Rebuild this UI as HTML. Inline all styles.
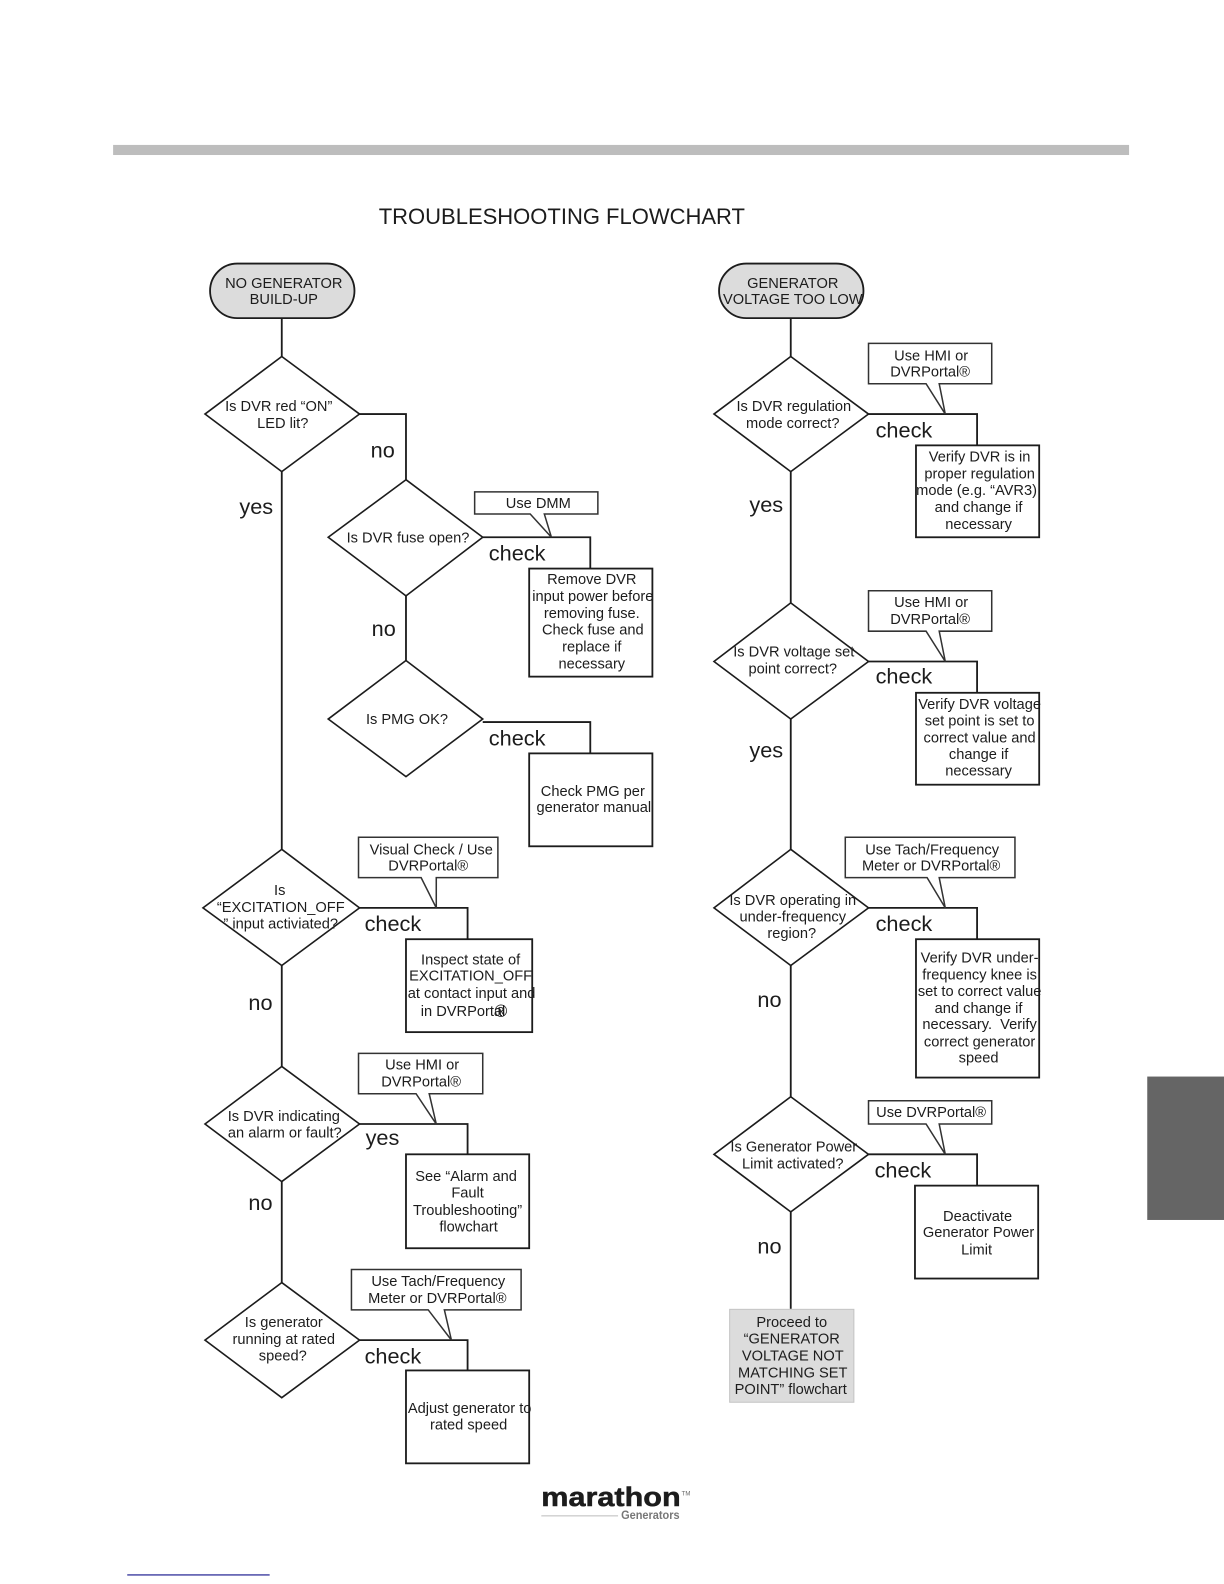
<!DOCTYPE html>
<html>
<head>
<meta charset="utf-8">
<style>
html,body{margin:0;padding:0;background:#fff;}
svg{display:block;}
text{font-family:"Liberation Sans",sans-serif;fill:#1c1c1c;}
.t{font-size:14.5px;text-anchor:middle;}
.l{font-size:21.5px;text-anchor:start;}
.s{fill:none;stroke:#1c1c1c;stroke-width:1.8;}
.b{fill:#fff;stroke:#1c1c1c;stroke-width:1.8;}
.c{fill:#fff;stroke:#333;stroke-width:1.5;}
</style>
</head>
<body>
<svg xmlns="http://www.w3.org/2000/svg" width="1224" height="1584" viewBox="0 0 1212 1568.47">
<rect x="112" y="143.500" width="1006" height="10" fill="#bdbdbd"/>
<rect x="1136" y="1066" width="76" height="142" fill="#656565"/>
<text x="375" y="222" style="font-size:21.8px">TROUBLESHOOTING FLOWCHART</text>

<!-- connectors -->
<path class="s" d="M279 315V353M279 467V841M279 956V1056M279 1170V1270"/>
<path class="s" d="M356 410H402V475M402 590V654"/>
<path class="s" d="M478 532H584.500V563M478 715H584.500V746"/>
<path class="s" d="M356 899H463V930M356 1113H463V1143M356 1327H463V1357"/>
<path class="s" d="M783 315V353M783 467V597M783 712V841M783 956V1086M783 1200V1296"/>
<path class="s" d="M860 410H967.500V441M860 655H967.500V686M860 899H967.500V930M860 1143H967.500V1174"/>

<!-- pills -->
<rect x="208" y="261" width="143" height="54" rx="27" fill="#dcdcdc" stroke="#1c1c1c" stroke-width="1.8"/>
<rect x="712" y="261" width="143" height="54" rx="27" fill="#dcdcdc" stroke="#1c1c1c" stroke-width="1.8"/>

<!-- decisions -->
<g fill="#fff" stroke="#1c1c1c" stroke-width="1.6">
<polygon points="279,353 356,410 279,467 203,410"/>
<polygon points="402,475 478,532 402,590 325,532"/>
<polygon points="402,654 478,712 402,769 325,712"/>
<polygon points="279,841 356,899 279,956 201,899"/>
<polygon points="279,1056 356,1113 279,1170 203,1113"/>
<polygon points="279,1270 356,1327 279,1384 203,1327"/>
<polygon points="783,353 860,410 783,467 707,410"/>
<polygon points="783,597 860,655 783,712 707,655"/>
<polygon points="783,841 860,899 783,956 707,899"/>
<polygon points="783,1086 860,1143 783,1200 707,1143"/>
</g>

<!-- callouts -->
<path class="c" d="M470 487H592V509H539L546 532L525 509H470Z"/>
<path class="c" d="M355 829H493V869H432V899L417 869H355Z"/>
<path class="c" d="M355 1043H478V1083H425L432 1113L412 1083H355Z"/>
<path class="c" d="M348 1257H516V1297H440L447 1327L424 1297H348Z"/>
<path class="c" d="M860 340H982V380H930L936 410L917 380H860Z"/>
<path class="c" d="M860 585H982V625H930L936 655L917 625H860Z"/>
<path class="c" d="M837 829H1005V869H930L936 899L918 869H837Z"/>
<path class="c" d="M860 1090H982V1113H930L936 1143L917 1113H860Z"/>

<!-- action boxes -->
<rect class="b" x="524" y="563" width="122" height="107"/>
<rect class="b" x="524" y="746" width="122" height="92"/>
<rect class="b" x="402" y="930" width="125" height="92"/>
<rect class="b" x="402" y="1143" width="122" height="93"/>
<rect class="b" x="402" y="1357" width="122" height="92"/>
<rect class="b" x="907" y="441" width="122" height="91"/>
<rect class="b" x="907" y="686" width="122" height="91"/>
<rect class="b" x="907" y="930" width="122" height="137"/>
<rect class="b" x="906" y="1174" width="122" height="92"/>
<rect x="722.500" y="1296.500" width="123" height="92" fill="#dcdcdc" stroke="#c4c4c4"/>

<!-- node text -->
<g class="t">
<text class="t" x="281" y="285">NO GENERATOR</text><text class="t" x="281" y="301">BUILD-UP</text>
<text class="t" x="785" y="285">GENERATOR</text><text class="t" x="785" y="301">VOLTAGE TOO LOW</text>

<text class="t" x="276" y="407">Is DVR red “ON”</text><text class="t" x="280" y="424">LED lit?</text>
<text class="t" x="404" y="537">Is DVR fuse open?</text>
<text class="t" x="403" y="717">Is PMG OK?</text>
<text class="t" x="277" y="886">Is</text><text class="t" x="278" y="903">“EXCITATION_OFF</text><text class="t" x="278" y="919.500">” input activiated?</text>
<text class="t" x="281" y="1110">Is DVR indicating</text><text class="t" x="282" y="1126.500">an alarm or fault?</text>
<text class="t" x="281" y="1314">Is generator</text><text class="t" x="281" y="1331">running at rated</text><text class="t" x="280" y="1347">speed?</text>

<text class="t" x="786" y="407">Is DVR regulation</text><text class="t" x="785" y="424">mode correct?</text>
<text class="t" x="786" y="650">Is DVR voltage set</text><text class="t" x="785" y="667">point correct?</text>
<text class="t" x="785" y="896">Is DVR operating in</text><text class="t" x="785" y="912.500">under-frequency</text><text class="t" x="784" y="929">region?</text>
<text class="t" x="786" y="1140">Is Generator Power</text><text class="t" x="785" y="1157">Limit activated?</text>

<text class="t" x="533" y="503">Use DMM</text>
<text class="t" x="427" y="846">Visual Check / Use</text><text class="t" x="424" y="862">DVRPortal®</text>
<text class="t" x="418" y="1059">Use HMI or</text><text class="t" x="417" y="1076">DVRPortal®</text>
<text class="t" x="434" y="1273.500">Use Tach/Frequency</text><text class="t" x="433" y="1290">Meter or DVRPortal®</text>
<text class="t" x="922" y="357">Use HMI or</text><text class="t" x="921" y="373">DVRPortal®</text>
<text class="t" x="922" y="601">Use HMI or</text><text class="t" x="921" y="618">DVRPortal®</text>
<text class="t" x="923" y="846">Use Tach/Frequency</text><text class="t" x="922" y="862">Meter or DVRPortal®</text>
<text class="t" x="922" y="1106">Use DVRPortal®</text>

<text class="t" x="586" y="578.500">Remove DVR</text><text class="t" x="587" y="595">input power before</text><text class="t" x="586" y="612">removing fuse.</text><text class="t" x="587" y="628.500">Check fuse and</text><text class="t" x="586" y="645">replace if</text><text class="t" x="586" y="662">necessary</text>
<text class="t" x="587" y="788">Check PMG per</text><text class="t" x="588" y="804">generator manual</text>
<text class="t" x="466" y="955">Inspect state of</text><text class="t" x="466" y="971">EXCITATION_OFF</text><text class="t" x="467" y="988">at contact input and</text><text class="t" x="458.500" y="1006">in DVRPortal</text><text x="496" y="1007" style="font-size:17px">®</text>
<text class="t" x="461.500" y="1169.500">See “Alarm and</text><text class="t" x="463" y="1186">Fault</text><text class="t" x="463" y="1203">Troubleshooting”</text><text class="t" x="464" y="1219.500">flowchart</text>
<text class="t" x="465" y="1399">Adjust generator to</text><text class="t" x="464" y="1415.500">rated speed</text>

<text class="t" x="970" y="457">Verify DVR is in</text><text class="t" x="970" y="474">proper regulation</text><text class="t" x="967" y="490">mode (e.g. “AVR3)</text><text class="t" x="969" y="507">and change if</text><text class="t" x="969" y="524">necessary</text>
<text class="t" x="970" y="702">Verify DVR voltage</text><text class="t" x="970" y="718.500">set point is set to</text><text class="t" x="970" y="735">correct value and</text><text class="t" x="969" y="751.500">change if</text><text class="t" x="969" y="768">necessary</text>
<text class="t" x="970" y="953">Verify DVR under-</text><text class="t" x="970" y="970">frequency knee is</text><text class="t" x="970" y="986">set to correct value</text><text class="t" x="969" y="1003">and change if</text><text class="t" x="970" y="1019" xml:space="preserve">necessary.  Verify</text><text class="t" x="970" y="1036">correct generator</text><text class="t" x="969" y="1052">speed</text>
<text class="t" x="968" y="1209">Deactivate</text><text class="t" x="969" y="1225">Generator Power</text><text class="t" x="967" y="1242">Limit</text>
<text class="t" x="784" y="1314">Proceed to</text><text class="t" x="784" y="1330.500">“GENERATOR</text><text class="t" x="785" y="1347">VOLTAGE NOT</text><text class="t" x="785" y="1364">MATCHING SET</text><text class="t" x="783" y="1380.500">POINT” flowchart</text>
</g>

<!-- connector labels -->
<text class="l" x="367" y="453">no</text>
<text class="l" x="237" y="509">yes</text>
<text class="l" x="484" y="555">check</text>
<text class="l" x="368" y="630">no</text>
<text class="l" x="484" y="738">check</text>
<text class="l" x="361" y="922">check</text>
<text class="l" x="246" y="1000">no</text>
<text class="l" x="362" y="1134">yes</text>
<text class="l" x="246" y="1198">no</text>
<text class="l" x="361" y="1350">check</text>
<text class="l" x="867" y="433">check</text>
<text class="l" x="742" y="507">yes</text>
<text class="l" x="867" y="677">check</text>
<text class="l" x="742" y="750">yes</text>
<text class="l" x="867" y="922">check</text>
<text class="l" x="750" y="997">no</text>
<text class="l" x="866" y="1166">check</text>
<text class="l" x="750" y="1241">no</text>

<!-- logo -->
<text x="536" y="1491" textLength="138" lengthAdjust="spacingAndGlyphs" style="font-size:27px;font-weight:bold;stroke:#1c1c1c;stroke-width:.5">marathon</text>
<text x="675" y="1481" style="font-size:6px;fill:#666">TM</text>
<line x1="536" y1="1501" x2="612" y2="1501" stroke="#bbb" stroke-width="1"/>
<text x="615" y="1504" textLength="58" lengthAdjust="spacingAndGlyphs" style="font-size:11.500px;font-weight:bold;fill:#777">Generators</text>
<line x1="126" y1="1559.500" x2="267" y2="1559.500" stroke="#10108a" stroke-width="1.2"/>
</svg>
</body>
</html>
